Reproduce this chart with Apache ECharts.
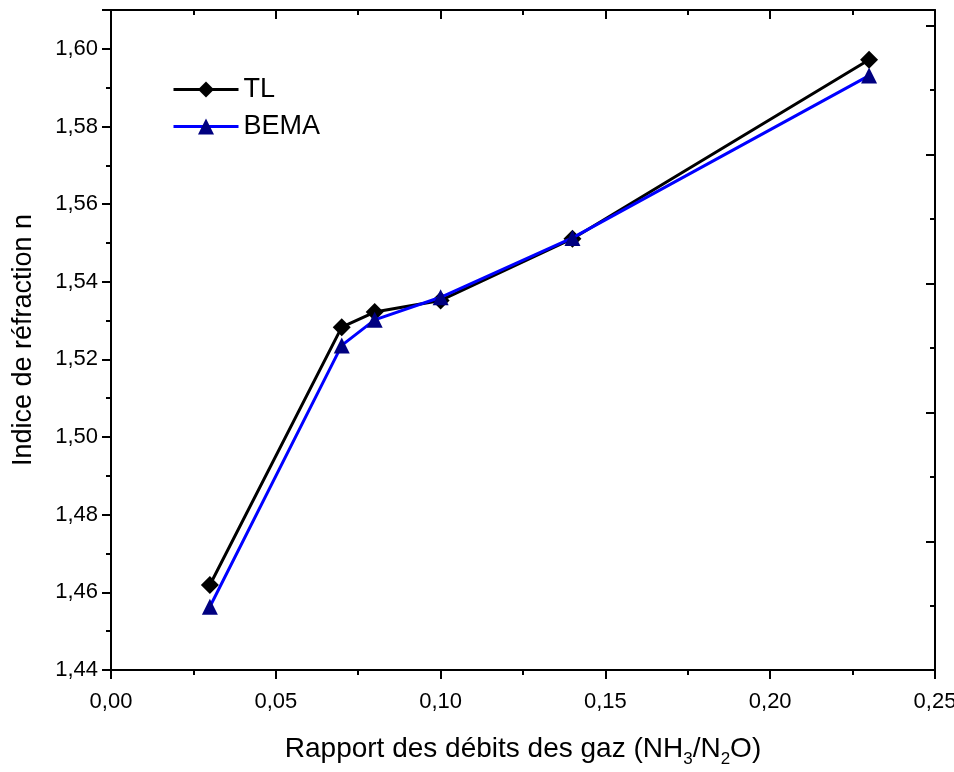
<!DOCTYPE html>
<html>
<head>
<meta charset="utf-8">
<script src="https://cdn.jsdelivr.net/npm/echarts@6/dist/echarts.min.js"></script>
<style>
  html, body { margin: 0; padding: 0; background: #fff; }
  #chart { width: 954px; height: 772px; }
</style>
</head>
<body>
<div id="chart"></div>
<script>
var ratios = [0.03, 0.07, 0.08, 0.10, 0.14, 0.23];
var tlValues = [1.4619, 1.5283, 1.5322, 1.5352, 1.5511, 1.5972];
var bemaValues = [1.4563, 1.5236, 1.5302, 1.5360, 1.5513, 1.5931];

function pairs(xs, ys) {
  return xs.map(function (x, i) { return [x, ys[i]]; });
}
function comma(v, d) {
  return v.toFixed(d).replace('.', ',');
}

var chart = echarts.init(document.getElementById('chart'));
var font = 'Liberation Sans, Arial, sans-serif';
var axisLine = { onZero: false, lineStyle: { color: '#000', width: 2 } };

var option = {
  animation: false,
  grid: { left: 111, right: 19, top: 10, bottom: 102, outerBoundsMode: 'none', containLabel: false },
  legend: {
    left: 167, top: 71, orient: 'vertical',
    itemWidth: 65, itemHeight: 20, itemGap: 10,
    lineStyle: { width: 3 },
    textStyle: { fontFamily: font, fontSize: 27, color: '#000' },
    data: ['TL', 'BEMA']
  },
  xAxis: [{
    type: 'value', min: 0, max: 0.25, interval: 0.05,
    axisLine: axisLine,
    axisTick: { inside: false, length: 9, lineStyle: { color: '#000', width: 2 } },
    minorTick: { show: true, splitNumber: 2, length: 5, lineStyle: { color: '#000', width: 2 } },
    splitLine: { show: false },
    axisLabel: { margin: 21, fontFamily: font, fontSize: 22, color: '#000',
      formatter: function (v) { return comma(v, 2); } },
    name: '{a|Rapport des débits des gaz (NH}{s|3}{a|/N}{s|2}{a|O)}',
    nameLocation: 'middle', nameGap: 61,
    nameTextStyle: {
      rich: {
        a: { fontFamily: font, fontSize: 28, color: '#000' },
        s: { fontFamily: font, fontSize: 17, color: '#000', padding: [20, 0, 0, 0] }
      }
    }
  }, {
    type: 'value', position: 'top', min: 0, max: 0.25, interval: 0.05,
    axisLine: axisLine,
    axisTick: { inside: true, length: 9, lineStyle: { color: '#000', width: 2 } },
    minorTick: { show: true, splitNumber: 2, length: 5, lineStyle: { color: '#000', width: 2 } },
    splitLine: { show: false },
    axisLabel: { show: false }
  }],
  yAxis: [{
    type: 'value', min: 1.44, max: 1.61, interval: 0.02,
    axisLine: axisLine,
    axisTick: { inside: false, length: 9, lineStyle: { color: '#000', width: 2 } },
    minorTick: { show: true, splitNumber: 2, length: 5, lineStyle: { color: '#000', width: 2 } },
    splitLine: { show: false },
    axisLabel: { margin: 13, showMaxLabel: false, fontFamily: font, fontSize: 22, color: '#000',
      formatter: function (v) { return v > 1.605 ? '' : comma(v, 2); } },
    name: 'Indice de réfraction n',
    nameLocation: 'middle', nameGap: 74,
    nameTextStyle: { fontFamily: font, fontSize: 27, color: '#000' }
  }, {
    // right frame axis, its ticks do not follow the left scale
    type: 'value', position: 'right', min: -0.0853, max: 5.031, interval: 1,
    axisLine: axisLine,
    axisTick: { inside: true, length: 9, lineStyle: { color: '#000', width: 2 } },
    minorTick: { show: true, splitNumber: 2, length: 5, lineStyle: { color: '#000', width: 2 } },
    splitLine: { show: false },
    axisLabel: { show: false }
  }],
  series: [{
    name: 'TL', type: 'line', data: pairs(ratios, tlValues),
    symbol: 'diamond', symbolSize: 18,
    itemStyle: { color: '#000' },
    lineStyle: { color: '#000', width: 3 },
    z: 3
  }, {
    name: 'BEMA', type: 'line', data: pairs(ratios, bemaValues),
    symbol: 'triangle', symbolSize: 16,
    itemStyle: { color: '#000080' },
    lineStyle: { color: '#0000ff', width: 3 },
    z: 4
  }]
};
chart.setOption(option);
</script>
</body>
</html>
